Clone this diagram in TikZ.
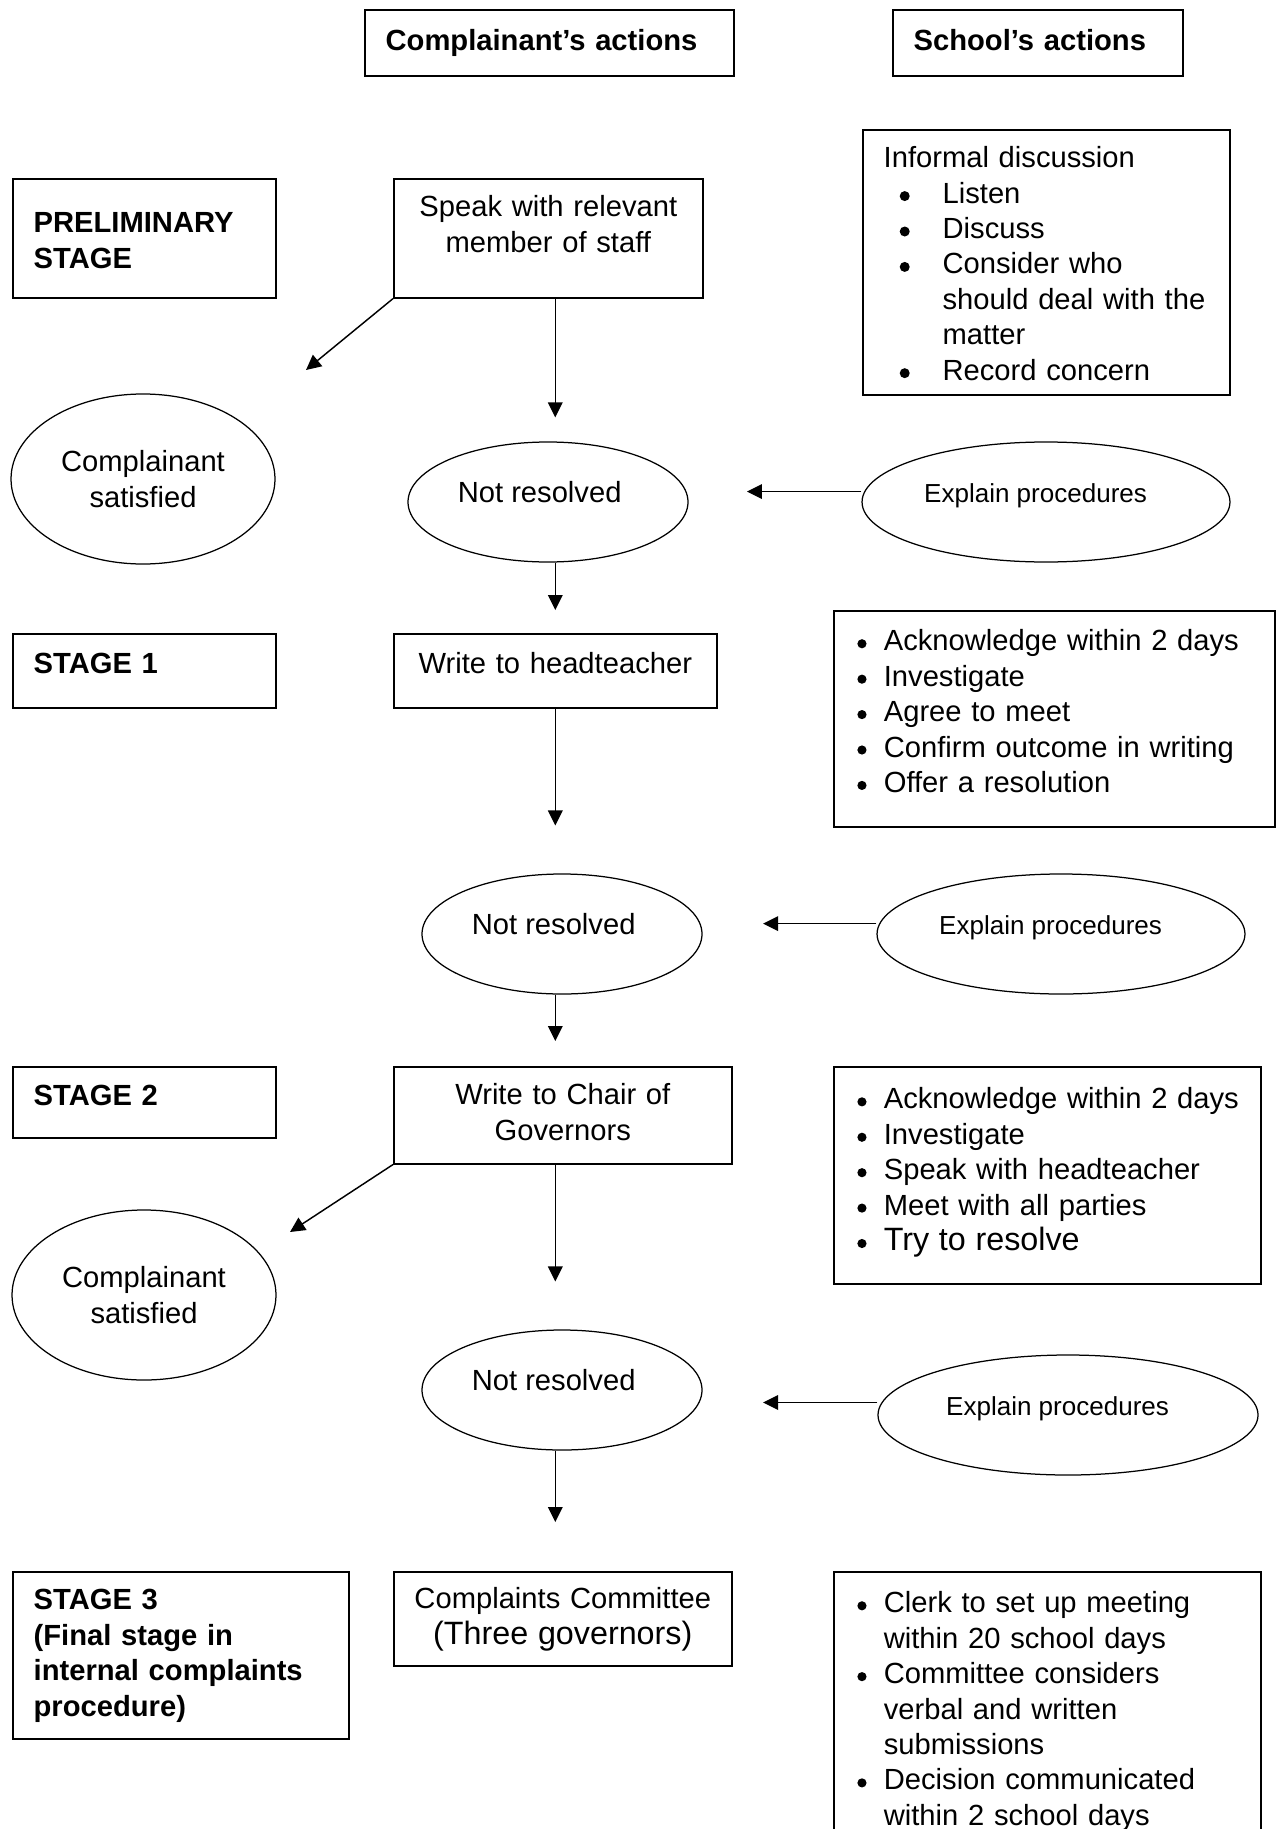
\documentclass[tikz,border=0pt]{standalone}
\usepackage{fontspec}
\setmainfont{Liberation Sans}
\usetikzlibrary{shapes.geometric,arrows.meta}
\tikzset{>={Triangle[length=7.2pt,width=7pt]}}
\tikzset{dims/.style n args={3}{text width=#1,text height=#2,text depth=#3}}
\tikzstyle{every node}=[font=\fontsize{14pt}{17pt}\selectfont]
\tikzstyle{box}=[rectangle,draw,line width=0.8pt,anchor=north west,inner xsep=10pt,inner ysep=0pt,align=left]
\tikzstyle{cbox}=[box,align=center,inner xsep=4pt]
\tikzstyle{bbox}=[box,font=\fontsize{14pt}{17pt}\selectfont\bfseries]
\tikzstyle{oval}=[ellipse,draw,line width=0.6pt,inner sep=0pt,align=center]
\tikzstyle{lone}=[text height=9pt,text depth=9pt]
\tikzstyle{eptext}=[font=\fontsize{12.5pt}{15pt}\selectfont]
\tikzstyle{flow}=[->,line width=0.7pt]
\newcommand{\dotmark}[1]{\tikz[baseline=0pt]\fill (0pt,3.4pt) circle[radius=#1];}
\newcommand{\bul}{\hspace*{1.3pt}\makebox[12.7pt][l]{\dotmark{2.2pt}}}
\newcommand{\bulgap}{\hspace*{14pt}}
\newcommand{\ibul}{\hspace*{7.7pt}\makebox[20.6pt][l]{\dotmark{2.4pt}}}
\newcommand{\larger}[1]{{\fontsize{15.5pt}{18pt}\selectfont #1}}

\begin{document}
\begin{tikzpicture}[x=0.48pt,y=-0.48pt]
\path[use as bounding box,fill=white] (0,0) rectangle (1275,1829);

% column headings
\node[bbox,dims={157.1pt}{19.7pt}{12pt}] (complainant) at (364,9) {Complainant's actions};
\node[bbox,dims={119.2pt}{19.7pt}{12pt}] (school) at (892,9) {School's actions};

% preliminary stage
\node[bbox,dims={106.2pt}{25.9pt}{31.2pt}] (prelim) at (12,178) {PRELIMINARY\\STAGE};
\node[cbox,dims={140.3pt}{18.2pt}{38.9pt}] (speak) at (393,178) {Speak with relevant\\member of staff};
\node[box,dims={156.2pt}{18.2pt}{109pt}] (informal) at (862,129) {Informal discussion\\
  \ibul Listen\\
  \ibul Discuss\\
  \ibul Consider who\\
  \hspace*{28.3pt}should deal with the\\
  \hspace*{28.3pt}matter\\
  \ibul Record concern};
\node[oval,minimum width=126.7pt,minimum height=81.6pt] (satisfiedA) at (143,479) {Complainant\\satisfied};
\node[oval,lone,minimum width=134.4pt,minimum height=57.6pt] (notresA) at (548,502) {Not resolved\hspace*{8pt}};
\node[oval,lone,eptext,minimum width=176.6pt,minimum height=57.6pt] (explainA) at (1046,502) {Explain procedures\hspace*{10pt}};
\coordinate (tipA) at (306,370);

% stage 1
\node[bbox,dims={106.2pt}{19.2pt}{16.3pt}] (stageA) at (12,633) {STAGE 1};
\node[cbox,dims={147pt}{19.2pt}{16.3pt}] (headteacher) at (393,633) {Write to headteacher};
\node[box,dims={191.7pt}{19.2pt}{84.5pt}] (checklistA) at (833,610) {\bul Acknowledge within 2 days\\
  \bul Investigate\\
  \bul Agree to meet\\
  \bul Confirm outcome in writing\\
  \bul Offer a resolution};
\node[oval,lone,minimum width=134.4pt,minimum height=57.6pt] (notresB) at (562,934) {Not resolved\hspace*{8pt}};
\node[oval,lone,eptext,minimum width=176.6pt,minimum height=57.6pt] (explainB) at (1061,934) {Explain procedures\hspace*{10pt}};

% stage 2
\node[bbox,dims={106.2pt}{18.7pt}{15.4pt}] (stageB) at (12,1066) {STAGE 2};
\node[cbox,dims={154.2pt}{18.2pt}{28.3pt}] (chair) at (393,1066) {Write to Chair of\\Governors};
\node[box,dims={185pt}{20.2pt}{84pt}] (checklistB) at (833,1066) {\bul Acknowledge within 2 days\\
  \bul Investigate\\
  \bul Speak with headteacher\\
  \bul Meet with all parties\\
  \bul\larger{Try to resolve}};
\node[oval,minimum width=126.7pt,minimum height=81.6pt] (satisfiedB) at (144,1295) {Complainant\\satisfied};
\node[oval,lone,minimum width=134.4pt,minimum height=57.6pt] (notresC) at (562,1390) {Not resolved\hspace*{8pt}};
\node[oval,lone,eptext,minimum width=182.4pt,minimum height=57.6pt] (explainC) at (1068,1415) {Explain procedures\hspace*{10pt}};
\coordinate (tipB) at (290,1232);

% stage 3
\node[bbox,dims={141.3pt}{18.2pt}{61.9pt}] (stageC) at (12,1571) {STAGE 3\\(Final stage in\\internal complaints\\procedure)};
\node[cbox,dims={154.2pt}{17.8pt}{27.4pt}] (committee) at (393,1571) {Complaints Committee\\\larger{(Three governors)}};
\node[box,dims={185pt}{19.7pt}{109.4pt}] (checklistC) at (833,1571) {\bul Clerk to set up meeting\\
  \bulgap within 20 school days\\
  \bul Committee considers\\
  \bulgap verbal and written\\
  \bulgap submissions\\
  \bul Decision communicated\\
  \bulgap within 2 school days};

% connectors
\draw[flow] (speak.south west) -- (tipA);
\draw[flow] (chair.south west) -- (tipB);
\draw[flow,shorten >=11.5pt] (speak.south -| headteacher.north) -- (notresA.north -| headteacher.north);
\draw[flow,shorten >=11pt] (notresA.south -| headteacher.north) -- (headteacher.north);
\draw[flow,shorten >=23pt] (headteacher.south) -- (notresB.north -| headteacher.south);
\draw[flow,shorten >=12pt] (notresB.south -| headteacher.south) -- (chair.north -| headteacher.south);
\draw[flow,shorten >=23pt] (chair.south -| headteacher.south) -- (notresC.north -| headteacher.south);
\draw[flow,shorten >=23.5pt] (notresC.south -| headteacher.south) -- (committee.north -| headteacher.south);
\draw[flow,shorten >=28pt] ([yshift=5pt]explainA.west) -- ([yshift=5pt]notresA.east);
\draw[flow,shorten >=29pt] ([yshift=5pt]explainB.west) -- ([yshift=5pt]notresB.east);
\draw[flow,shorten >=29pt] ([yshift=6pt]explainC.west) -- ([yshift=6pt]explainC.west -| notresC.east);
\end{tikzpicture}
\end{document}
